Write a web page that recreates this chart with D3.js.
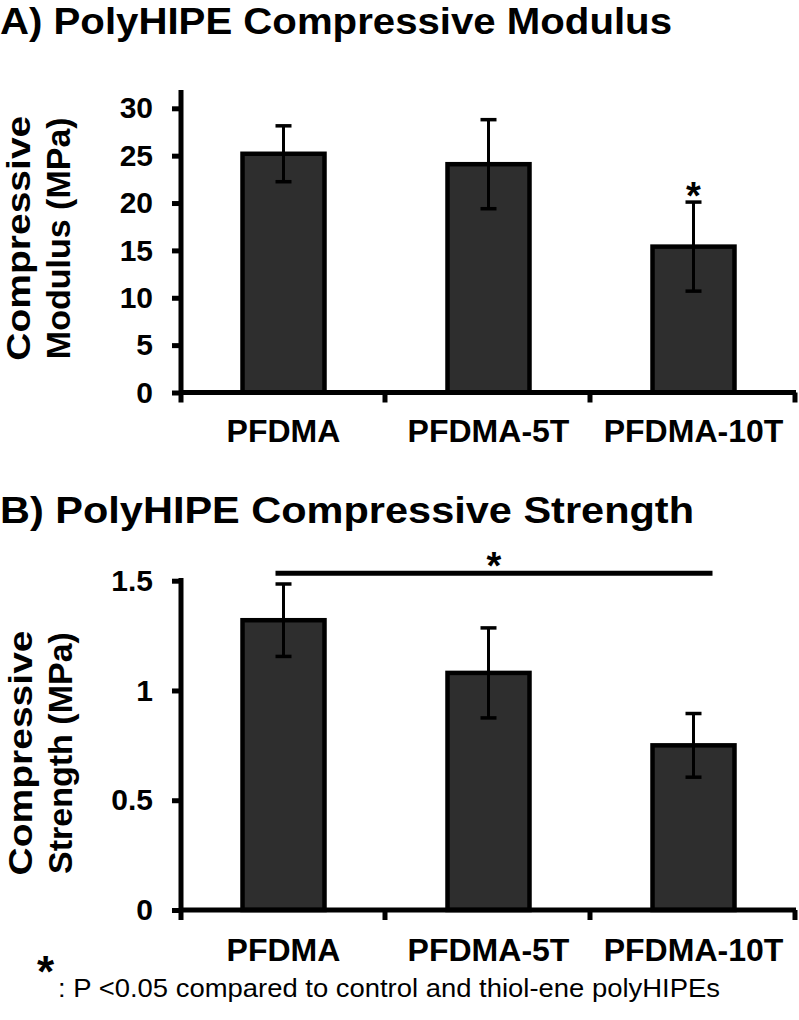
<!DOCTYPE html>
<html><head><meta charset="utf-8">
<script src="https://cdn.jsdelivr.net/npm/d3@7"></script>
<style>
body{margin:0;background:#fff}
svg{display:block}
text{font-family:"Liberation Sans",Arial,Helvetica,sans-serif;fill:#000}
</style>
</head><body>
<svg id="chart" width="799" height="1020"></svg>
<script>
// ---- data ----
const categories = ["PFDMA", "PFDMA-5T", "PFDMA-10T"];
const modulusMeans = [25.2, 24.1, 15.4];
const modulusErrors = [2.95, 4.7, 4.7];
const modulusSignificant = [false, false, true];
const strengthMeans = [1.32, 1.08, 0.75];
const strengthErrors = [0.165, 0.205, 0.145];
const modulusTicks = [0, 5, 10, 15, 20, 25, 30];
const modulusTickLabels = ["0", "5", "10", "15", "20", "25", "30"];
const strengthTicks = [0, 0.5, 1, 1.5];
const strengthTickLabels = ["0", "0.5", "1", "1.5"];
const panelTitles = ["A) PolyHIPE Compressive Modulus", "B) PolyHIPE Compressive Strength"];
const yTitleLines = [["Compressive", "Modulus (MPa)"], ["Compressive", "Strength (MPa)"]];
const strengthBracketLevel = 1.534;   // height of the significance bar in panel B (MPa)
const footnoteMark = "*";
const footnoteText = ": P <0.05 compared to control and thiol-ene polyHIPEs";

// ---- layout ----
const svg = d3.select("#chart");
const FONT = '"Liberation Sans",Arial,Helvetica,sans-serif';
const xLeft = 181, xRight = 796;

const panels = [
  {means: modulusMeans, errs: modulusErrors, ticks: modulusTicks, tickLabels: modulusTickLabels,
   domain: [0, 30], range: [392.5, 108.3], axisTop: 90, title: panelTitles[0], titleY: 34, titleW: 672,
   yTitle: yTitleLines[0], yTitleX: [30, 70], yTitleLen: [245, null], yTitleShift: -3,
   labelY: 442, sig: modulusSignificant},
  {means: strengthMeans, errs: strengthErrors, ticks: strengthTicks, tickLabels: strengthTickLabels,
   domain: [0, 1.5], range: [910, 580.7], axisTop: 578, title: panelTitles[1], titleY: 523, titleW: 694,
   yTitle: yTitleLines[1], yTitleX: [32, 72], yTitleLen: [245, null], yTitleShift: 9,
   labelY: 961, sig: [false, false, false], bracket: true}
];

panels.forEach(p => {
  const g = svg.append("g");
  const y = d3.scaleLinear().domain(p.domain).range(p.range);
  const x = d3.scaleBand().domain(categories).range([xLeft, xRight]).paddingInner(0.6).paddingOuter(0.3);
  const xb = d3.scaleBand().domain(categories).range([xLeft, xRight]).padding(0);
  const y0 = y(0);

  // title
  g.append("text").attr("x", 0).attr("y", p.titleY)
    .attr("font-size", 37).attr("font-weight", "bold")
    .attr("textLength", p.titleW).attr("lengthAdjust", "spacingAndGlyphs").text(p.title);

  // y axis title (two lines, rotated)
  const cy = (p.axisTop + y0) / 2 + p.yTitleShift;
  p.yTitle.forEach((line, i) => {
    const t = g.append("text")
      .attr("transform", `translate(${p.yTitleX[i]},${cy}) rotate(-90)`)
      .attr("text-anchor", "middle").attr("font-size", 34).attr("font-weight", "bold")
      .text(line);
    if (p.yTitleLen[i]) t.attr("textLength", p.yTitleLen[i]).attr("lengthAdjust", "spacingAndGlyphs");
  });

  // bars
  g.selectAll("rect.bar").data(categories).join("rect")
    .attr("x", d => x(d)).attr("width", x.bandwidth())
    .attr("y", (d, i) => y(p.means[i])).attr("height", (d, i) => y0 - y(p.means[i]))
    .attr("fill", "#2e2e2e").attr("stroke", "#000").attr("stroke-width", 4.5);

  // error bars
  const cx = d => x(d) + x.bandwidth() / 2;
  const capW = 8;
  categories.forEach((c, i) => {
    const top = y(p.means[i] + p.errs[i]), bot = y(p.means[i] - p.errs[i]);
    g.append("line").attr("x1", cx(c)).attr("x2", cx(c)).attr("y1", top).attr("y2", bot)
      .attr("stroke", "#000").attr("stroke-width", 3);
    [top, bot].forEach(v => g.append("line")
      .attr("x1", cx(c) - capW).attr("x2", cx(c) + capW).attr("y1", v).attr("y2", v)
      .attr("stroke", "#000").attr("stroke-width", 3.5));
    if (p.sig[i]) {
      g.append("text").attr("x", cx(c)).attr("y", top - 15 + 22)
        .attr("text-anchor", "middle").attr("font-size", 38).attr("font-weight", "bold").text("*");
    }
  });

  // y axis
  const yAxis = d3.axisLeft(y).tickValues(p.ticks).tickFormat((d, i) => p.tickLabels[i])
    .tickSize(9).tickPadding(19);
  const ag = g.append("g").attr("transform", `translate(${xLeft},0)`).call(yAxis);
  ag.select(".domain").remove();
  ag.selectAll(".tick line").attr("stroke", "#000").attr("stroke-width", 5);
  ag.selectAll(".tick text").attr("font-size", 30).attr("font-weight", "bold")
    .attr("font-family", FONT).attr("fill", "#000");

  // x axis (category axis with boundary ticks)
  const tickLen = 10;
  g.append("line").attr("x1", xLeft).attr("x2", xRight).attr("y1", y0).attr("y2", y0)
    .attr("stroke", "#000").attr("stroke-width", 5);
  const bounds = categories.map(c => xb(c)).concat([xb(categories[categories.length - 1]) + xb.bandwidth()]);
  g.selectAll("line.bt").data(bounds.slice(1)).join("line")
    .attr("x1", d => d - 1).attr("x2", d => d - 1).attr("y1", y0).attr("y2", y0 + tickLen)
    .attr("stroke", "#000").attr("stroke-width", 5);
  // y axis line (extends down through first category tick)
  g.append("line").attr("x1", xLeft).attr("x2", xLeft).attr("y1", p.axisTop).attr("y2", y0 + tickLen)
    .attr("stroke", "#000").attr("stroke-width", 5);

  // category labels
  g.selectAll("text.cat").data(categories).join("text")
    .attr("x", d => cx(d)).attr("y", p.labelY).attr("text-anchor", "middle")
    .attr("font-size", 32).attr("font-weight", "bold").text(d => d);

  // significance bracket
  if (p.bracket) {
    const by = y(strengthBracketLevel);
    const bx1 = cx(categories[0]) - 8, bx2 = cx(categories[2]) + 19;
    g.append("line").attr("x1", bx1).attr("x2", bx2).attr("y1", by).attr("y2", by)
      .attr("stroke", "#000").attr("stroke-width", 5);
    g.append("text").attr("x", (bx1 + bx2) / 2).attr("y", by - 16 + 22)
      .attr("text-anchor", "middle").attr("font-size", 38).attr("font-weight", "bold").text("*");
  }
});

// footnote
svg.append("text").attr("x", 37).attr("y", 987).attr("font-size", 44).attr("font-weight", "bold").text(footnoteMark);
svg.append("text").attr("x", 58).attr("y", 997).attr("font-size", 26)
  .attr("textLength", 662).attr("lengthAdjust", "spacingAndGlyphs").text(footnoteText);
</script>
</body></html>
